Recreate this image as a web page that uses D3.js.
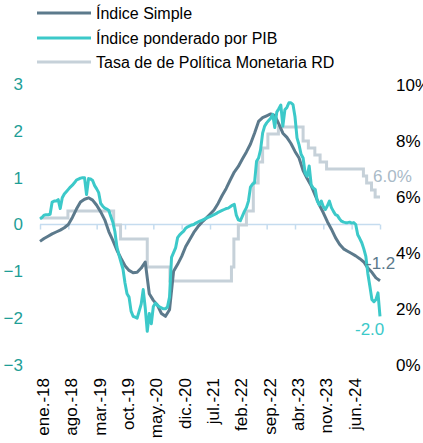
<!DOCTYPE html>
<html><head><meta charset="utf-8">
<script src="https://cdn.jsdelivr.net/npm/d3@7"></script>
<style>
html,body{margin:0;padding:0;background:#fff;}
svg{display:block;font-family:"Liberation Sans",Arial,sans-serif;}
</style></head>
<body><svg id="c" width="423" height="443"></svg>
<script>
// ---- DATA ----
const xTickMonths = [0,7,14,21,28,35,42,49,56,63,70,77,84];
const xTickLabels = ["ene.-18","ago.-18","mar.-19","oct.-19","may.-20","dic.-20","jul.-21","feb.-22","sep.-22","abr.-23","nov.-23","jun.-24"];
const leftTicks = [-3,-2,-1,0,1,2,3];
const rightTicks = [0,2,4,6,8,10];
const seriesNames = ["Índice Simple","Índice ponderado por PIB","Tasa de de Política Monetaria RD"];

// Índice Simple, monthly from ene.-18
const simpleIndex = [
-0.36,-0.30,-0.25,-0.20,-0.16,-0.12,-0.07,0.00,0.15,0.33,
0.48,0.54,0.57,0.52,0.41,0.27,0.10,-0.15,-0.34,-0.55,
-0.72,-0.88,-0.98,-1.03,-1.02,-0.93,-0.80,-1.48,-1.62,-1.72,
-1.90,-1.96,-1.82,-1.00,-0.85,-0.68,-0.47,-0.32,-0.17,-0.05,
0.05,0.13,0.22,0.31,0.45,0.62,0.77,0.95,1.12,1.24,
1.40,1.55,1.72,1.95,2.20,2.28,2.32,2.36,2.33,2.15,
1.95,1.86,1.73,1.56,1.42,1.15,0.98,0.83,0.62,0.42,
0.25,0.06,-0.10,-0.28,-0.42,-0.52,-0.57,-0.62,-0.67,-0.73,
-0.80,-0.93,-1.02,-1.14,-1.20];

// Índice ponderado por PIB, half-monthly from ene.-18
const gdpIndex = [
0.12,0.15,0.20,0.21,0.21,0.22,0.48,0.50,0.50,0.53,
0.34,0.57,0.65,0.70,0.75,0.80,0.84,0.89,0.95,0.97,
0.99,1.00,1.00,0.64,0.98,0.97,0.94,0.83,0.76,0.68,
0.45,0.39,0.35,0.33,0.30,0.17,0.05,-0.15,-0.48,-0.65,
-0.80,-0.95,-1.25,-1.48,-1.55,-1.85,-1.96,-1.98,-2.00,-1.85,
-1.70,-1.39,-1.78,-2.28,-1.90,-2.12,-1.75,-1.68,-1.72,-1.76,
-1.78,-1.80,-1.80,-1.76,-1.55,-0.70,-0.60,-0.50,-0.28,-0.22,
-0.18,-0.14,-0.08,-0.05,-0.03,-0.01,0.00,0.03,0.05,0.07,
0.09,0.11,0.13,0.15,0.17,0.19,0.21,0.23,0.26,0.28,
0.30,0.32,0.34,0.35,0.38,0.41,0.43,0.20,0.10,0.08,
0.18,0.28,0.36,0.50,0.80,0.86,0.89,1.35,1.42,1.60,
1.95,2.10,2.17,2.22,2.27,2.35,2.07,2.40,2.47,2.55,
2.10,2.45,2.50,2.60,2.60,2.56,2.30,1.85,1.70,1.50,
1.42,1.10,1.03,1.25,0.85,0.78,0.75,0.50,0.42,0.50,
0.38,0.32,0.40,0.50,0.36,0.28,0.21,0.19,0.12,0.07,
0.05,0.04,0.04,0.05,0.03,0.04,0.00,-0.22,-0.30,-0.39,
-0.52,-0.68,-1.05,-1.32,-1.60,-1.65,-1.60,-1.46,-1.96];

// Policy rate: month index of each change and the rate (%)
const policyMonth = [0,6.9,18.2,19.9,26.5,32.1,47.3,47.9,49.0,51.0,52.7,53.9,55.0,56.3,58.9,65.0,66.3,67.9,69.2,70.8,79.9,80.7,81.9,82.8,84];
const policyRate  = [5.25,5.5,5.0,4.5,3.5,3.0,3.5,4.5,5.0,5.5,6.5,7.25,7.75,8.25,8.5,8.0,7.75,7.5,7.25,7.0,6.75,6.5,6.25,6.0,6.0];

const endLabels = ["-1.2","-2.0","6.0%"];

// ---- CHART ----
const C = {simple:"#5c7a8c", gdp:"#3cc9c9", rate:"#c6d1d9", rateLbl:"#a9bac7", zero:"#c5dcef", left:"#1e9e96"};
const svg = d3.select("#c");
const x = d3.scaleLinear().domain([0,84]).range([40,380]);
const yL = d3.scaleLinear().domain([-3,3]).range([365,84]);
const yR = d3.scaleLinear().domain([0,10]).range([365,85]);

// left axis
const gl = svg.append("g").attr("transform","translate(23,0)")
  .call(d3.axisLeft(yL).tickValues(leftTicks).tickSize(0).tickPadding(0).tickFormat(d3.format("d")));
gl.select(".domain").remove();
gl.selectAll("text").attr("fill",C.left).style("font-size","17px").style("font-family","Liberation Sans, Arial");

// right axis
const gr = svg.append("g").attr("transform","translate(396,0)")
  .call(d3.axisRight(yR).tickValues(rightTicks).tickSize(0).tickPadding(0).tickFormat(d=>d+"%"));
gr.select(".domain").remove();
gr.selectAll("text").attr("fill","#000").style("font-size","17px").style("font-family","Liberation Sans, Arial");

// zero line with ticks
const gz = svg.append("g").attr("transform",`translate(0,${yL(0)})`)
  .call(d3.axisBottom(x).tickValues(xTickMonths).tickSize(5).tickFormat(""));
gz.select(".domain").attr("stroke",C.zero).attr("stroke-width",1.5).attr("d",`M${x(0)},0H${x(84)}`);
gz.selectAll(".tick line").attr("stroke",C.zero).attr("stroke-width",1.5);

// bottom labels
const gb = svg.append("g").attr("transform","translate(0,373)")
  .call(d3.axisBottom(x).tickValues(xTickMonths.slice(0,12)).tickSize(0).tickFormat((d,i)=>xTickLabels[i]));
gb.select(".domain").remove();
gb.selectAll("text").attr("transform","rotate(-90)").attr("x",-5).attr("y",0).attr("dy","0.5em")
  .style("text-anchor","end").attr("fill","#000").style("font-size","17px").style("font-family","Liberation Sans, Arial");

// policy rate (step)
const rateData = policyMonth.map((m,i)=>[m,policyRate[i]]);
svg.append("path").datum(rateData)
  .attr("d",d3.line().x(d=>x(d[0])).y(d=>yR(d[1])).curve(d3.curveStepAfter))
  .attr("fill","none").attr("stroke",C.rate).attr("stroke-width",3);

// simple index
svg.append("path").datum(simpleIndex.map((v,i)=>[i,v]))
  .attr("d",d3.line().x(d=>x(d[0])).y(d=>yL(d[1])))
  .attr("fill","none").attr("stroke",C.simple).attr("stroke-width",3).attr("stroke-linejoin","round");

// gdp weighted
svg.append("path").datum(gdpIndex.map((v,i)=>[i/2,v]))
  .attr("d",d3.line().x(d=>x(d[0])).y(d=>yL(d[1])))
  .attr("fill","none").attr("stroke",C.gdp).attr("stroke-width",3).attr("stroke-linejoin","round");

// end labels
svg.append("text").attr("x",366).attr("y",yL(simpleIndex[84])-12).text(endLabels[0])
  .attr("fill",C.simple).style("font-size","17px");
svg.append("text").attr("x",355).attr("y",yL(gdpIndex[168])+19).text(endLabels[1])
  .attr("fill",C.gdp).style("font-size","17px");
svg.append("text").attr("x",373).attr("y",yR(policyRate[policyRate.length-1])-15).text(endLabels[2])
  .attr("fill",C.rateLbl).style("font-size","17px");

// legend
const legColors = [C.simple,C.gdp,C.rate];
const legY = [13,38,62];
seriesNames.forEach((n,i)=>{
  svg.append("line").attr("x1",37).attr("x2",91).attr("y1",legY[i]).attr("y2",legY[i])
    .attr("stroke",legColors[i]).attr("stroke-width",3);
  svg.append("text").attr("x",96).attr("y",legY[i]+6).text(n).attr("fill","#000").style("font-size","16px");
});
</script></body></html>
